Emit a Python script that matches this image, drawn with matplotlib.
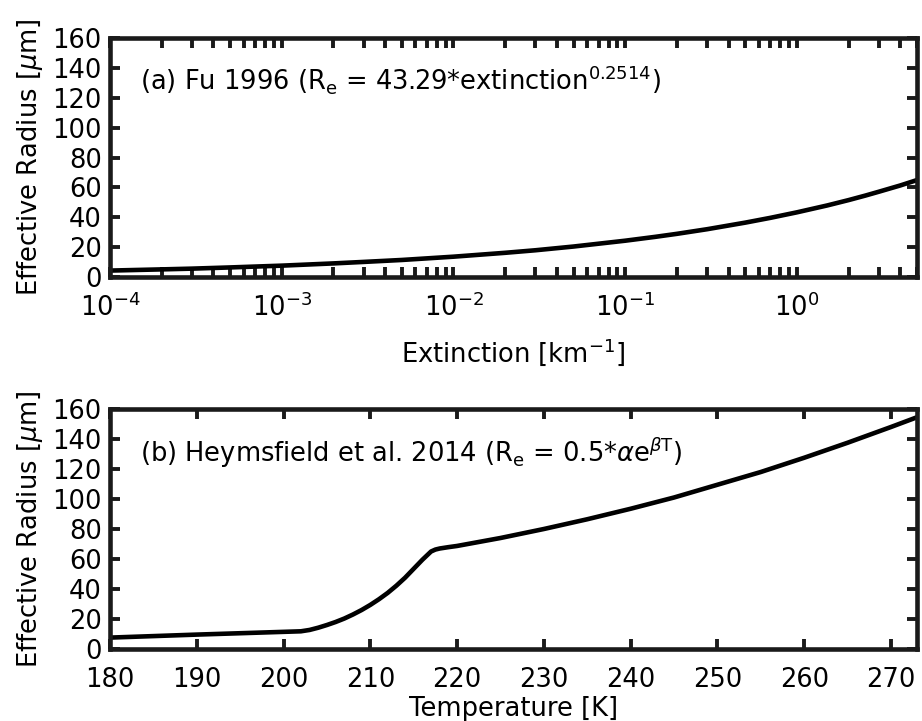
import matplotlib
matplotlib.use("Agg")
import matplotlib.pyplot as plt
from matplotlib.ticker import LogLocator

# ---- data ----
extinction = [1e-4, 2e-4, 3e-4, 5e-4, 1e-3, 2e-3, 3e-3, 5e-3, 1e-2, 2e-2, 3e-2, 5e-2,
              1e-1, 1.5e-1, 2e-1, 3e-1, 5e-1, 7e-1, 1.0, 1.5, 2.0, 2.5, 3.0, 4.0, 5.0]
re_fu = [4.3, 5.1, 5.6, 6.4, 7.6, 9.1, 10.1, 11.4, 13.6, 16.2, 17.9, 20.4,
         24.3, 26.9, 28.9, 32.0, 36.4, 39.6, 43.3, 47.9, 51.5, 54.5, 57.1, 61.3, 64.9]

temperature = [180, 190, 202, 203, 204, 205, 206, 207, 208, 209, 210, 211, 212, 213,
               214, 215, 216, 217, 217.5, 218, 219, 220, 225, 230, 235, 240, 245,
               250, 255, 260, 265, 270, 273]
re_heym = [7.6, 9.6, 11.8, 12.7, 14.2, 16.0, 18.0, 20.3, 23.0, 26.0, 29.4, 33.2, 37.4, 42.2,
           47.5, 53.5, 59.5, 65.0, 66.3, 67.0, 67.9, 68.7, 74.0, 80.0, 86.5, 93.5, 101.0,
           109.5, 118.0, 127.5, 137.5, 148.0, 154.5]

yticks = [0, 20, 40, 60, 80, 100, 120, 140, 160]
tticks = [180, 190, 200, 210, 220, 230, 240, 250, 260, 270]

W, H = 922, 721
fig = plt.figure(figsize=(W / 100, H / 100), dpi=100)

FS = 18.5
LW = 3.3

def style(ax):
    for s in ax.spines.values():
        s.set_linewidth(3.3)
        s.set_color("#1a1a1a")
    ax.tick_params(which="both", direction="in", top=True, right=True,
                   length=7, width=2.8, color="#1a1a1a", labelsize=FS)
    ax.tick_params(axis="y", pad=6)
    ax.set_ylim(0, 160)
    ax.set_yticks(yticks)
    ax.set_ylabel(r"Effective Radius [$\mu$m]", fontsize=FS, labelpad=5)

left = 110 / W
width = 807 / W

ax1 = fig.add_axes([left, (H - 277) / H, width, 239 / H])
ax1.plot(extinction, re_fu, color="black", lw=LW, solid_capstyle="butt",
         solid_joinstyle="round")
ax1.set_xscale("log")
ax1.set_xlim(1e-4, 5)
ax1.xaxis.set_major_locator(LogLocator(base=10, numticks=10))
ax1.xaxis.set_minor_locator(LogLocator(base=10, subs=range(2, 10), numticks=20))
style(ax1)
ax1.tick_params(axis="x", which="both", pad=12)
ax1.set_xlabel(r"Extinction [km$^{-1}$]", fontsize=FS, labelpad=10)
ax1.text(0.037, 0.785, r"(a) Fu 1996 (R$_\mathrm{e}$ = 43.29*extinction$^{0.2514}$)",
         transform=ax1.transAxes, fontsize=FS, va="baseline", ha="left")

ax2 = fig.add_axes([left, (H - 649) / H, width, 240 / H])
ax2.plot(temperature, re_heym, color="black", lw=LW, solid_joinstyle="round",
         solid_capstyle="butt")
ax2.set_xlim(180, 273)
ax2.set_xticks(tticks)
style(ax2)
ax2.tick_params(axis="x", pad=13)
ax2.set_xlabel("Temperature [K]", fontsize=FS, labelpad=2)
ax2.text(0.037, 0.778, r"(b) Heymsfield et al. 2014 (R$_\mathrm{e}$ = 0.5*$\alpha$e$^{\beta\mathrm{T}}$)",
         transform=ax2.transAxes, fontsize=FS, va="baseline", ha="left")

fig.savefig("out.png", dpi=100)
